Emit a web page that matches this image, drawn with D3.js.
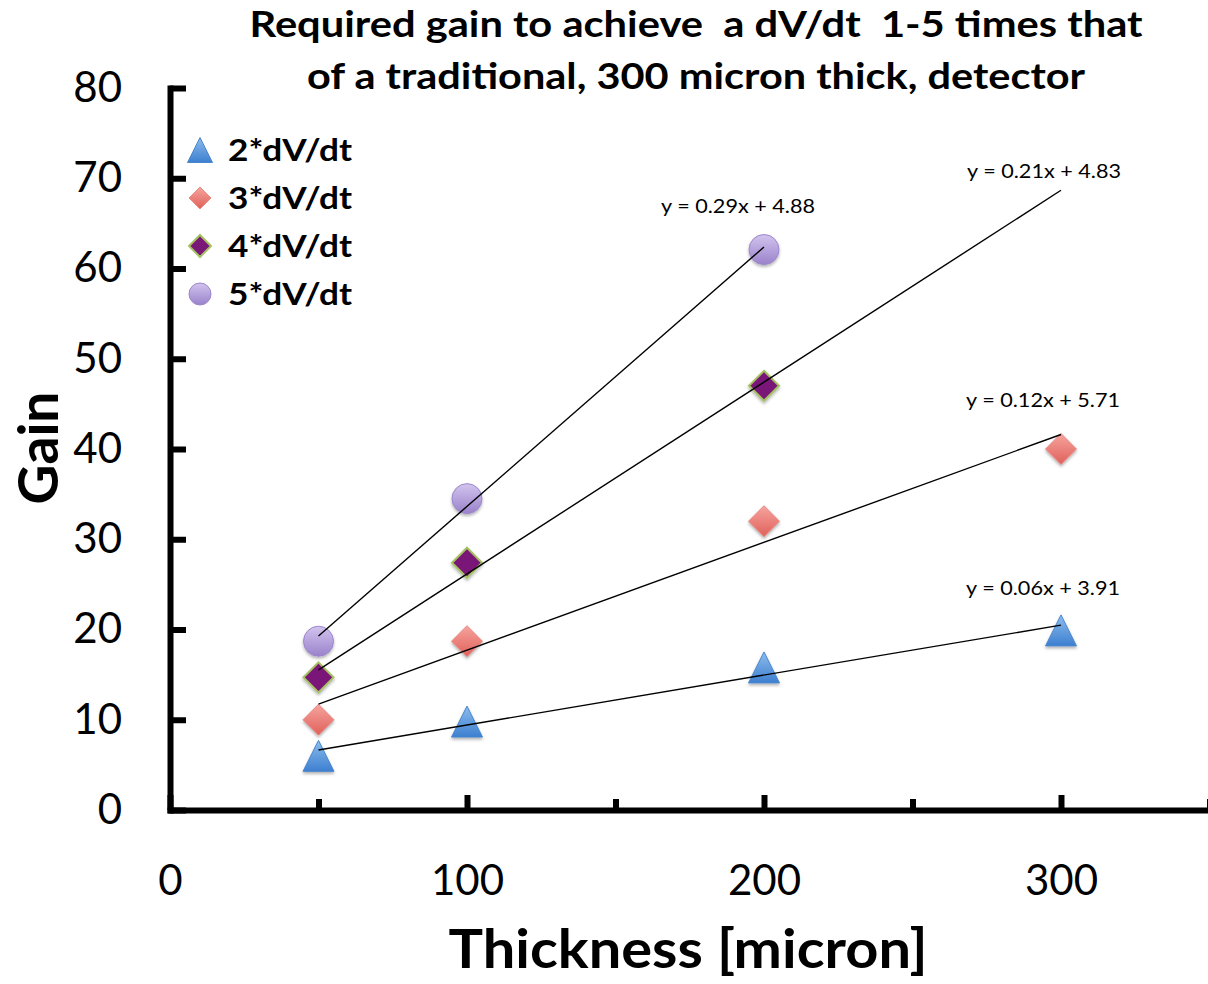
<!DOCTYPE html>
<meta charset="utf-8">
<style>
  body { margin: 0; background: #fff; }
  text { font-family: Lato, "Open Sans", sans-serif; }
  .axis path, .axis line { stroke: #000; stroke-width: 6; }
  .axis text { font-size: 42px; fill: #000; }
  .trend { stroke: #000; stroke-width: 1.4; fill: none; }
  .eq { font-size: 20px; fill: #000; }
</style>
<svg width="1208" height="984"></svg>
<script src="https://d3js.org/d3.v7.min.js"></script>
<script>

  // thickness [micron] measured for each series
  var xs2 = [50, 100, 200, 300],
    xs3 = [50, 100, 200, 300],
    xs4 = [50, 100, 200],
    xs5 = [50, 100, 200];

  // gain
  var gain2 = [6, 9.8, 15.8, 19.9],
    gain3 = [10, 18.7, 32, 40],
    gain4 = [14.7, 27.4, 47],
    gain5 = [18.7, 34.5, 62.1];

  var seriesNames = ["2*dV/dt", "3*dV/dt", "4*dV/dt", "5*dV/dt"];
  var equations = ["y = 0.06x + 3.91", "y = 0.12x + 5.71", "y = 0.21x + 4.83", "y = 0.29x + 4.88"];
  // where each trend line stops (Excel forecast)
  var trendEnd = [300, 300, 300, 200];

  var xTicks = [0, 50, 100, 150, 200, 250, 300, 350];
  var yTicks = [0, 10, 20, 30, 40, 50, 60, 70, 80];

  var svg = d3.select("svg");

  var x = d3.scaleLinear().domain([0, 350]).range([170, 1209.5]);
  var y = d3.scaleLinear().domain([0, 80]).range([810, 88]);

  var defs = svg.append("defs");

  function grad(id, c1, c2) {
    var g = defs.append("linearGradient").attr("id", id)
      .attr("x1", 0).attr("y1", 0).attr("x2", 0).attr("y2", 1);
    g.append("stop").attr("offset", "0%").attr("stop-color", c1);
    g.append("stop").attr("offset", "100%").attr("stop-color", c2);
  }
  grad("gBlue", "#8DBDED", "#3D7FD0");
  grad("gRed", "#F6A49E", "#E0605A");
  grad("gLav", "#D2C4EE", "#9A82CB");

  var shadow = defs.append("filter").attr("id", "shadow")
    .attr("x", "-50%").attr("y", "-50%").attr("width", "200%").attr("height", "200%");
  shadow.append("feDropShadow").attr("dx", 0).attr("dy", 2)
    .attr("stdDeviation", 1.5).attr("flood-color", "#000").attr("flood-opacity", 0.3);

  // marker shapes, centred on the data point
  function triangle(s) {
    var h = s / 2;
    return "M0," + (-h) + "L" + h + "," + h + "L" + (-h) + "," + h + "Z";
  }
  function diamond(s) {
    var h = s / 2;
    return "M0," + (-h) + "L" + h + ",0L0," + h + "L" + (-h) + ",0Z";
  }
  function circle(s) {
    var r = s / 2;
    return "M" + r + ",0A" + r + "," + r + " 0 1,1 " + (-r) + ",0A" + r + "," + r + " 0 1,1 " + r + ",0Z";
  }

  var styles = [
    { shape: triangle, fill: "url(#gBlue)", stroke: "#4A86CC", sw: 1, size: 31, dx: -18, dy: -35 },
    { shape: diamond, fill: "url(#gRed)", stroke: "#E98A84", sw: 1, size: 31, dx: -18, dy: -33 },
    { shape: diamond, fill: "#7A1877", stroke: "#A5C263", sw: 2, size: 30, dx: -17, dy: -17 },
    { shape: circle, fill: "url(#gLav)", stroke: "#9C86CC", sw: 1, size: 30, dx: -26, dy: -39 }
  ];

  var series = [
    { xs: xs2, ys: gain2 },
    { xs: xs3, ys: gain3 },
    { xs: xs4, ys: gain4 },
    { xs: xs5, ys: gain5 }
  ];

  // least squares fit, like Excel's linear trendline
  function fit(xv, yv) {
    var mx = d3.mean(xv), my = d3.mean(yv);
    var num = d3.sum(xv, (d, i) => (d - mx) * (yv[i] - my));
    var den = d3.sum(xv, (d) => (d - mx) * (d - mx));
    var b = num / den;
    return { slope: b, icpt: my - b * mx };
  }

  //
  // axes
  //
  svg.append("g")
    .attr("class", "axis")
    .attr("transform", "translate(0," + y(0) + ")")
    .call(d3.axisBottom(x)
      .tickValues(xTicks)
      .tickSizeInner(-11)
      .tickSizeOuter(0)
      .tickPadding(55)
      .tickFormat((d) => d % 100 === 0 && d < 350 ? d : ""))
    .call((g) => g.selectAll(".tick line")
      .attr("y2", (d) => d % 100 === 0 ? -15 : -11));

  svg.append("g")
    .attr("class", "axis")
    .attr("transform", "translate(" + x(0) + ",0)")
    .call(d3.axisLeft(y)
      .tickValues(yTicks)
      .tickSizeInner(-16)
      .tickSizeOuter(0)
      .tickPadding(48));

  svg.selectAll(".axis .domain").attr("stroke-linecap", "square");

  //
  // trend lines
  //
  series.forEach(function (s, i) {
    var f = fit(s.xs, s.ys);
    var x0 = d3.min(s.xs), x1 = trendEnd[i];
    svg.append("line")
      .attr("class", "trend")
      .attr("x1", x(x0)).attr("y1", y(f.slope * x0 + f.icpt))
      .attr("x2", x(x1)).attr("y2", y(f.slope * x1 + f.icpt));
  });

  //
  // markers
  //
  series.forEach(function (s, i) {
    var st = styles[i];
    svg.append("g")
      .selectAll("path")
      .data(s.xs.map((d, j) => [d, s.ys[j]]))
      .enter().append("path")
      .attr("transform", (d) => "translate(" + x(d[0]) + "," + y(d[1]) + ")")
      .attr("d", st.shape(st.size))
      .attr("fill", st.fill)
      .attr("stroke", st.stroke)
      .attr("stroke-width", st.sw)
      .attr("filter", "url(#shadow)");
  });

  // trend lines sit on top of the markers, like Excel
  svg.selectAll("line.trend").raise();

  //
  // equation labels
  //
  series.forEach(function (s, i) {
    var f = fit(s.xs, s.ys);
    var xe = trendEnd[i];
    svg.append("text")
      .attr("class", "eq")
      .attr("x", x(xe) + styles[i].dx)
      .attr("y", y(f.slope * xe + f.icpt) + styles[i].dy)
      .attr("text-anchor", "middle")
      .attr("dominant-baseline", "middle")
      .attr("textLength", 154)
      .attr("lengthAdjust", "spacingAndGlyphs")
      .text(equations[i]);
  });

  //
  // legend
  //
  var legend = svg.append("g").attr("transform", "translate(200,150)");
  seriesNames.forEach(function (name, i) {
    var st = styles[i];
    var row = legend.append("g").attr("transform", "translate(0," + (i * 48) + ")");
    row.append("path")
      .attr("d", st.shape(i === 0 ? 25 : 22))
      .attr("fill", st.fill)
      .attr("stroke", st.stroke)
      .attr("stroke-width", st.sw);
    row.append("text")
      .attr("x", 28)
      .attr("dy", "0.36em")
      .attr("font-size", 31)
      .attr("font-weight", "bold")
      .attr("textLength", 124)
      .attr("lengthAdjust", "spacingAndGlyphs")
      .text(name);
  });

  //
  // titles
  //
  var title = svg.append("text")
    .attr("text-anchor", "middle")
    .attr("font-size", 36)
    .attr("font-weight", "bold")
    .style("white-space", "pre");
  title.append("tspan").attr("x", 696).attr("y", 37)
    .attr("textLength", 893).attr("lengthAdjust", "spacingAndGlyphs")
    .text("Required gain to achieve  a dV/dt  1-5 times that");
  title.append("tspan").attr("x", 696).attr("y", 89)
    .attr("textLength", 778).attr("lengthAdjust", "spacingAndGlyphs")
    .text("of a traditional, 300 micron thick, detector");

  svg.append("text")
    .attr("x", 688)
    .attr("y", 968)
    .attr("text-anchor", "middle")
    .attr("font-size", 53)
    .attr("font-weight", "bold")
    .attr("textLength", 479)
    .attr("lengthAdjust", "spacingAndGlyphs")
    .text("Thickness [micron]");

  svg.append("text")
    .attr("transform", "translate(58,448) rotate(-90)")
    .attr("text-anchor", "middle")
    .attr("font-size", 55)
    .attr("font-weight", "bold")
    .text("Gain");

</script>
